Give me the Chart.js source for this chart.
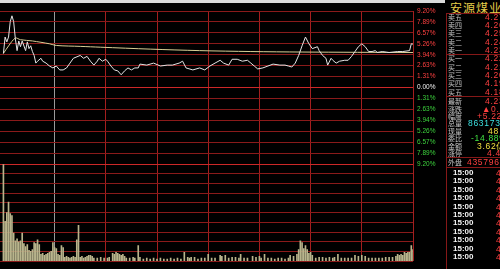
<!DOCTYPE html>
<html>
<head>
<meta charset="utf-8">
<title>安源煤业 分时图</title>
<script src="https://cdn.jsdelivr.net/npm/chart.js@4.4.1/dist/chart.umd.min.js"></script>
<style>
    body { margin: 0; width: 500px; height: 269px; background: #000; overflow: hidden; position: relative; font-family: "Liberation Sans", Arial, sans-serif; }
    #topbar { position: absolute; left: 0; top: 0; width: 445px; height: 3px; background: #dadada; }
    #chart { position: absolute; left: 0; top: 0; }
    .q { position: absolute; white-space: nowrap; line-height: 10px; height: 10px; }
    .lbl { font-family: "Noto Sans CJK SC", sans-serif; font-size: 7px; color: #c4c4c4; }
    .val { font-size: 8.5px; letter-spacing: 0.7px; }
    .tm { font-size: 8px; font-weight: bold; color: #f2f2f2; }
    .sep { position: absolute; left: 446px; width: 54px; height: 1px; background: #861818; }
    #title { position: absolute; left: 450px; top: 1px; font-family: "Noto Sans CJK SC", serif; font-size: 12px; letter-spacing: 1px; color: #e6cf4a; white-space: nowrap; line-height: 13px; }
    #vline { position: absolute; left: 446px; top: 13px; width: 1px; height: 256px; background: #861818; }
</style>
</head>
<body>
<div id="topbar"></div>
<canvas id="chart" width="447" height="269"></canvas>
<div id="title"></div>
<div id="vline"></div>

<script>
// 分时数据: 分钟 (0 = 9:30, 240 = 15:00) 与涨跌幅 %
const priceMinutes = [
    0, 1, 2, 3, 4, 5, 6, 7, 8, 9,
    10, 11, 13, 14, 15, 16, 17, 18, 19, 20,
    22, 23, 25, 27, 29, 31, 33, 35, 37, 39,
    41, 45, 47, 49, 51, 53, 55, 56, 58, 60,
    61, 63, 65, 67, 69, 71, 73, 75, 77, 79,
    80, 84, 88, 92, 96, 99, 103, 105, 107, 111,
    115, 118, 121, 124, 127, 129, 132, 134, 137, 140,
    143, 145, 147, 149, 152, 155, 158, 162, 165, 167,
    169, 171, 173, 175, 177, 179, 181, 184, 185, 187,
    189, 190, 192, 193, 195, 197, 200, 202, 204, 206,
    208, 210, 212, 214, 216, 218, 219, 222, 226, 231,
    234, 238, 239, 240
];
const priceChange = [
    4.10, 6.07, 5.49, 6.07, 7.92, 8.62, 7.92, 5.84, 4.44, 5.60,
    4.91, 5.60, 4.44, 5.49, 4.68, 5.02, 4.33, 3.86, 2.94, 3.17,
    3.52, 3.17, 2.94, 2.59, 2.36, 2.59, 2.12, 2.12, 2.36, 2.94,
    3.52, 3.86, 3.52, 3.75, 3.17, 2.70, 3.17, 3.52, 3.17, 3.40,
    3.17, 2.59, 2.12, 2.01, 1.54, 2.01, 2.36, 2.12, 2.36, 2.36,
    2.82, 2.70, 2.94, 2.59, 2.70, 2.70, 2.94, 3.17, 2.36, 2.12,
    2.36, 2.12, 2.59, 2.94, 3.28, 2.94, 2.70, 3.40, 3.40, 3.17,
    3.28, 2.94, 2.59, 2.24, 2.36, 2.59, 2.82, 2.70, 2.70, 2.59,
    2.47, 2.94, 3.86, 5.02, 6.07, 5.26, 4.68, 4.91, 4.44, 3.86,
    3.52, 2.70, 3.52, 3.28, 2.94, 3.17, 3.28, 3.28, 3.75, 4.33,
    4.91, 5.26, 4.91, 4.33, 4.33, 4.44, 4.21, 4.33, 4.21, 4.33,
    4.33, 4.44, 5.26, 5.22
];

// 均价线
const avgMinutes = [0, 3, 7, 10, 17, 27, 31, 45, 57, 86, 115, 145, 175, 240];
const avgChange = [4.10, 5.00, 5.95, 5.75, 5.60, 5.26, 5.06, 4.95, 4.85, 4.62, 4.44, 4.33, 4.27, 4.21];

// 成交量 (相对单位)
const volMinutes = [
    0, 1, 2, 3, 4, 5, 6, 7, 8, 9,
    10, 11, 12, 13, 14, 15, 16, 17, 18, 19,
    20, 21, 22, 23, 24, 25, 26, 27, 28, 29,
    30, 31, 32, 33, 34, 35, 36, 37, 38, 39,
    40, 41, 42, 43, 44, 45, 46, 47, 48, 49,
    50, 51, 52, 53, 55, 57, 59, 61, 62, 64,
    65, 66, 67, 68, 69, 70, 71, 72, 74, 76,
    77, 79, 80, 82, 84, 86, 88, 90, 92, 94,
    96, 98, 100, 102, 104, 106, 108, 109, 110, 112,
    114, 116, 118, 120, 122, 124, 127, 128, 130, 132,
    134, 136, 138, 139, 141, 143, 146, 148, 150, 151,
    153, 155, 157, 159, 161, 163, 165, 167, 168, 170,
    172, 173, 174, 175, 176, 177, 178, 179, 180, 181,
    183, 185, 187, 189, 191, 193, 194, 196, 198, 200,
    202, 204, 206, 208, 210, 212, 214, 216, 218, 220,
    222, 224, 226, 228, 230, 231, 232, 233, 234, 235,
    236, 237, 238, 239, 240
];
const volValues = [
    10.0, 4.1, 5.0, 6.1, 4.9, 4.7, 2.9, 2.1, 2.3, 2.0,
    2.1, 2.9, 1.8, 1.5, 1.7, 1.1, 1.0, 1.2, 1.9, 1.8,
    2.2, 1.7, 0.7, 0.8, 0.6, 0.7, 0.8, 0.9, 1.0, 1.9,
    1.4, 1.3, 0.7, 0.6, 1.6, 1.4, 0.4, 0.5, 0.4, 0.3,
    0.4, 0.5, 0.4, 2.2, 3.7, 0.4, 0.5, 0.3, 0.4, 0.5,
    0.6, 0.6, 0.5, 0.3, 0.3, 0.4, 0.3, 0.3, 0.4, 0.8,
    0.7, 0.9, 0.8, 0.7, 0.6, 0.7, 0.5, 0.3, 0.3, 0.4,
    0.3, 1.6, 0.4, 0.2, 0.3, 0.2, 0.3, 0.2, 0.3, 0.2,
    0.2, 0.3, 0.2, 0.3, 0.2, 0.9, 0.4, 0.3, 0.4, 0.4,
    0.2, 0.3, 0.3, 0.7, 0.3, 0.3, 0.6, 0.5, 0.6, 0.3,
    0.4, 0.4, 0.3, 0.7, 0.3, 0.3, 0.5, 0.4, 0.5, 0.3,
    0.7, 0.3, 0.3, 0.2, 0.3, 0.3, 0.2, 0.3, 0.6, 0.5,
    0.7, 1.2, 2.1, 1.9, 1.3, 1.6, 1.2, 0.8, 0.9, 0.6,
    0.3, 0.4, 0.4, 0.3, 0.4, 0.3, 0.4, 0.7, 0.3, 0.3,
    0.3, 0.3, 0.6, 0.5, 0.6, 0.5, 0.3, 0.3, 0.3, 0.3,
    0.3, 0.4, 0.4, 0.4, 0.5, 0.7, 0.6, 0.7, 0.6, 0.9,
    0.8, 0.9, 0.9, 1.6, 1.2
];

// 坐标刻度
const pctTicks = [9.20, 7.89, 6.57, 5.26, 3.94, 2.63, 1.31, 0.00, -1.31, -2.63, -3.94, -5.26, -6.57, -7.89, -9.20];
const timeTicks = [30, 60, 90, 120, 150, 180, 210, 240];

// 右侧盘口
const stockName = '安源煤业';
const askLabels = ['卖五', '卖四', '卖三', '卖二', '卖一'];
const askPrices = ['4.27', '4.26', '4.25', '4.24', '4.23'];
const bidLabels = ['买一', '买二', '买三', '买四', '买五'];
const bidPrices = ['4.22', '4.21', '4.20', '4.19', '4.18'];
const infoLabels = ['最新', '涨跌', '幅度', '总量', '现量', '委比', '金额', '涨停', '外盘'];
const infoValues = ['4.23', '▲0.21', '+5.22%', '863173', '48', '-14.88%', '3.62亿', '4.42', '435796'];
const tradeTimes = ['15:00', '15:00', '15:00', '15:00', '15:00', '15:00', '15:00', '15:00', '15:00', '15:00', '15:00'];
const tradePrice = '4.23';

const RED = '#ff4040';
const GRID = '#8a1a1a';
const GRID_V = '#a41e1e';
const GRID_HI = '#cc2828';

function put(text, left, top, cls, color) {
    const d = document.createElement('div');
    d.className = 'q ' + cls;
    d.textContent = text;
    d.style.left = left + 'px';
    d.style.top = top + 'px';
    if (color) d.style.color = color;
    document.body.appendChild(d);
}

function sep(top) {
    const d = document.createElement('div');
    d.className = 'sep';
    d.style.top = top + 'px';
    document.body.appendChild(d);
}

document.getElementById('title').textContent = stockName;
sep(13);
askLabels.forEach((l, i) => {
    const top = [17, 25, 33, 42, 50][i] - 5;
    put(l, 448, top, 'lbl');
    put(askPrices[i], 485, top, 'val', RED);
});
sep(54);
bidLabels.forEach((l, i) => {
    const top = [58, 67, 75, 83, 92][i] - 5;
    put(l, 448, top, 'lbl');
    put(bidPrices[i], 485, top, 'val', RED);
});
sep(96);
const infoColors = [RED, RED, RED, '#3ce0e0', '#f0e040', '#40e040', '#f0e040', RED, RED];
const infoLeft = [485, 482, 477, 468, 488, 471, 477, 487, 467];
const infoRows = [101, 109, 116, 123, 131, 138, 146, 153, 162];
infoLabels.forEach((l, i) => {
    put(l, 448, infoRows[i] - 5, 'lbl');
    put(infoValues[i], infoLeft[i], infoRows[i] - 5, 'val', infoColors[i]);
});
sep(157);
sep(167);
tradeTimes.forEach((t, i) => {
    const top = 173 + i * 8.4 - 5;
    put(t, 453, top, 'tm');
    put(tradePrice, 496, top, 'val', RED);
});

window.addEventListener('DOMContentLoaded', () => {
    const ctx = document.getElementById('chart').getContext('2d');
    new Chart(ctx, {
        data: {
            datasets: [
                {
                    type: 'line',
                    label: '价格',
                    data: priceMinutes.map((m, i) => ({ x: m, y: priceChange[i] })),
                    yAxisID: 'y',
                    borderColor: '#e4e4e4',
                    borderWidth: 1,
                    pointRadius: 0,
                    tension: 0
                },
                {
                    type: 'line',
                    label: '均价',
                    data: avgMinutes.map((m, i) => ({ x: m, y: avgChange[i] })),
                    yAxisID: 'y',
                    borderColor: '#d8cf96',
                    borderWidth: 1,
                    pointRadius: 0,
                    tension: 0.3
                },
                {
                    type: 'bar',
                    label: '成交量',
                    data: volMinutes.map((m, i) => ({ x: m, y: volValues[i] })),
                    yAxisID: 'yv',
                    backgroundColor: '#b8b48c',
                    barThickness: 1
                }
            ]
        },
        options: {
            responsive: false,
            animation: false,
            layout: { padding: { top: 11, left: 0, right: 0, bottom: 0 } },
            plugins: {
                legend: { display: false },
                tooltip: { enabled: false }
            },
            scales: {
                x: {
                    type: 'linear',
                    offset: false,
                    min: -2,
                    max: 240,
                    afterBuildTicks: s => { s.ticks = timeTicks.map(v => ({ value: v })); },
                    afterFit: s => { s.height = 0; },
                    ticks: { display: false, autoSkip: false },
                    border: { display: false },
                    grid: {
                        drawTicks: false,
                        offset: false,
                        lineWidth: 1,
                        color: c => (c.tick && c.tick.value === 30) ? '#9a9a9a' : GRID_V
                    }
                },
                y: {
                    position: 'right',
                    stack: 'main',
                    stackWeight: 158,
                    min: -9.2,
                    max: 9.2,
                    afterBuildTicks: s => { s.ticks = pctTicks.map(v => ({ value: v })); },
                    afterFit: s => { s.width = 34; },
                    border: { display: false },
                    grid: {
                        drawTicks: false,
                        color: c => c.tick && c.tick.value === 0 ? GRID_HI : GRID
                    },
                    ticks: {
                        autoSkip: false,
                        padding: 4,
                        font: { size: 6.5, family: 'Liberation Sans' },
                        color: c => c.tick.value > 0 ? RED : (c.tick.value < 0 ? '#3cd23c' : '#f0f0f0'),
                        callback: v => Math.abs(v).toFixed(2) + '%'
                    }
                },
                yv: {
                    position: 'right',
                    stack: 'main',
                    stackWeight: 100,
                    min: 0,
                    max: 10,
                    afterFit: s => { s.width = 34; },
                    border: { display: false },
                    ticks: { display: false, stepSize: 1, autoSkip: false },
                    grid: {
                        drawTicks: false,
                        color: c => c.tick && c.tick.value === 10 ? GRID_HI : GRID
                    }
                }
            }
        }
    });
});
</script>
</body>
</html>
